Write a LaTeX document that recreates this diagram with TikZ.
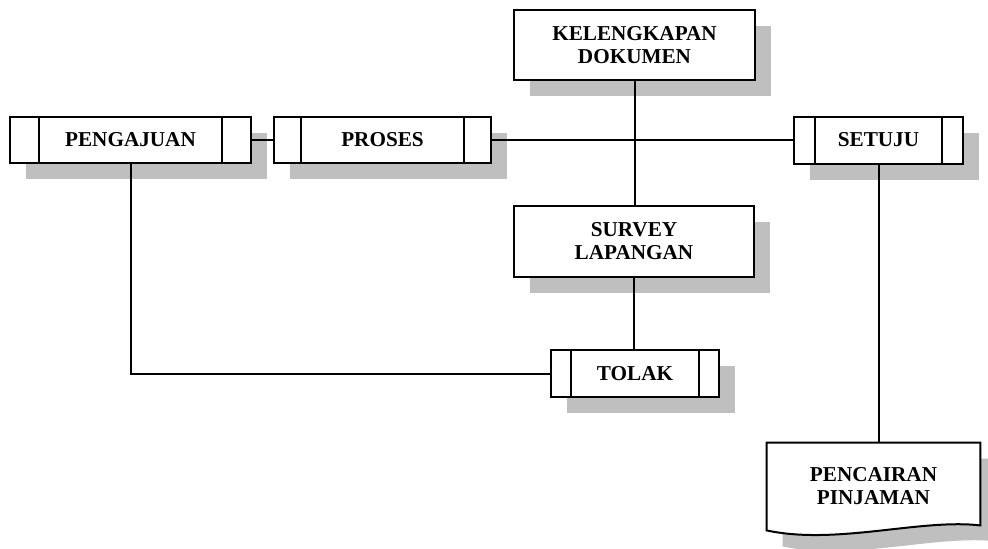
\documentclass[tikz,border=0pt]{standalone}
\usepackage{fontspec}
\setmainfont{Liberation Serif}
\usetikzlibrary{calc,shadows}
\begin{document}
\begin{tikzpicture}[x=0.5pt, y=-0.5pt,
  label font/.style={font=\bfseries\fontsize{10.6}{11.5}\selectfont, align=center},
  box/.style={draw, fill=white, line width=1pt, inner sep=0pt, label font,
    drop shadow={shadow xshift=8pt, shadow yshift=-8pt, opacity=1, fill=black!25}},
  procbox/.style={box, path picture={
    \draw[line width=1pt]
      ([xshift=#1]path picture bounding box.north west) -- ([xshift=#1]path picture bounding box.south west)
      ([xshift=-#1]path picture bounding box.north east) -- ([xshift=-#1]path picture bounding box.south east);
  }},
  link/.style={line width=1pt}]
    \useasboundingbox (0,0) rectangle (988,548);

    % Top document check
    \node[box, minimum width=120.5pt, minimum height=35pt] (kel) at (634.5,45) {KELENGKAPAN\\DOKUMEN};

    % Process row
    \node[procbox=14.5pt, minimum width=120.5pt, minimum height=23pt] (peng) at (130.5,140) {PENGAJUAN};
    \node[procbox=13.5pt, minimum width=108.5pt, minimum height=23pt] (pros) at (382.5,140) {PROSES};
    \node[procbox=10.5pt, minimum width=84.5pt, minimum height=23.5pt] (set) at (878.5,140) {SETUJU};

    % Survey and rejection
    \node[box, minimum width=120pt, minimum height=35.5pt] (srv) at (634,241.5) {SURVEY\\LAPANGAN};
    \node[procbox=10pt, minimum width=84pt, minimum height=23.5pt] (tolak) at (635,373.5) {TOLAK};

    % Output document
    \node[minimum width=106.5pt, minimum height=43.5pt, inner sep=0pt] (pcr) at (873.5,486.5) {};
    \fill[black!25] ([shift={(16,16)}]pcr.north west) -- ([shift={(16,16)}]pcr.north east)
      -- ([shift={(16,11)}]pcr.south east)
      .. controls ([shift={(-44,4)}]pcr.south east) and ([shift={(86,31)}]pcr.south west)
      .. ([shift={(16,16)}]pcr.south west) -- cycle;
    \draw[fill=white, line width=1pt] (pcr.north west) -- (pcr.north east)
      -- ([shift={(0,-5)}]pcr.south east)
      .. controls ([shift={(-60,-12)}]pcr.south east) and ([shift={(70,15)}]pcr.south west)
      .. (pcr.south west) -- cycle;
    \node[label font] (pcrtext) at (pcr) {PENCAIRAN\\PINJAMAN};

    % Connections
    \draw[link] (peng) -- (pros);
    \draw[link] (pros) -- (set);
    \draw[link] (kel.south) -- (kel.south |- srv.north);
    \draw[link] (srv.south) -- (srv.south |- tolak.north);
    \draw[link] (peng.south) |- (tolak.west);
    \draw[link] (set.south) -- (set.south |- pcr.north);
\end{tikzpicture}
\end{document}
